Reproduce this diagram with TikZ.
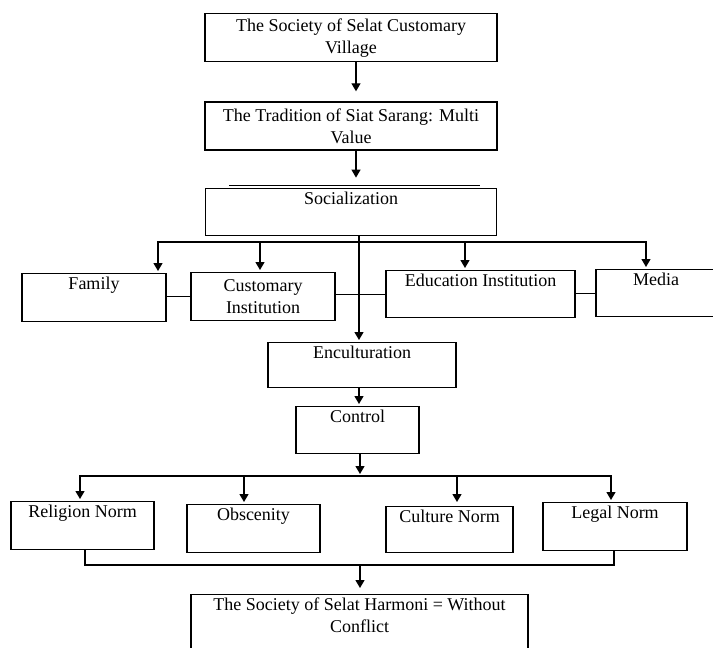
\documentclass[tikz,border=0pt]{standalone}
\usepackage{fontspec}
\setmainfont{Liberation Serif}
\usetikzlibrary{shapes,arrows.meta,positioning}

\begin{document}
\begin{tikzpicture}[x=1pt, y=-1pt, node distance=30pt]
    % Define styles
    \tikzstyle{block} = [rectangle, draw=black, line width=1.3pt, inner sep=0pt, align=center, font=\fontsize{18}{22}\selectfont, anchor=north]
    \tikzstyle{topblock} = [block, inner xsep=2pt, inner ysep=3pt, text height=13pt]
    \tikzstyle{line} = [draw=black, line width=1.3pt]
    \tikzstyle{arrow} = [line, -{Triangle[length=8pt,width=9pt]}, shorten >=2pt]

    \useasboundingbox (0,0) rectangle (713,648);

    % Main column
    \node [block, minimum width=292pt, minimum height=48pt] (village) at (351,13) {The Society of Selat Customary\\Village};
    \node [block, minimum width=292pt, minimum height=48pt, below=39pt of village] (tradition) {The Tradition of Siat Sarang: Multi\\Value};
    \node [topblock, minimum width=291pt, text depth=28pt, below=37pt of tradition] (social) {Socialization};
    \draw [line] ([xshift=24pt,yshift=2pt]social.north west) -- ([xshift=-17pt,yshift=2pt]social.north east);

    % Socialization agents
    \node [topblock, minimum width=144pt, text depth=29pt] (family) at (94,273) {Family};
    \node [block, minimum width=144pt, minimum height=48pt] (customary) at (263,272) {Customary\\Institution};
    \node [topblock, minimum width=189pt, text depth=28pt] (education) at (480.5,270) {Education Institution};
    \node [topblock, minimum width=120pt, text depth=28pt] (media) at (656,269) {Media};

    \node [topblock, minimum width=188pt, text depth=26pt] (encult) at (362,342) {Enculturation};
    \node [topblock, minimum width=123pt, text depth=28pt] (control) at (357.5,406) {Control};

    % Norms
    \node [topblock, minimum width=143pt, text depth=29pt] (religion) at (82.5,501) {Religion Norm};
    \node [topblock, minimum width=133pt, text depth=29pt] (obscenity) at (253.5,504) {Obscenity};
    \node [topblock, minimum width=127pt, text depth=27pt] (culture) at (449.5,506) {Culture Norm};
    \node [topblock, minimum width=144pt, text depth=29pt] (legal) at (615,502) {Legal Norm};

    \node [block, inner ysep=3pt, minimum width=337pt, text depth=70pt] (harmony) at (359.5,594) {The Society of Selat Harmoni = Without\\Conflict};

    % Arrows down the column
    \draw [arrow, shorten >=10pt] ([xshift=5pt]village.south) -- ([xshift=5pt]village.south |- tradition.north);
    \draw [arrow, shorten >=10pt] ([xshift=5pt]tradition.south) -- ([xshift=5pt]tradition.south |- social.north);
    \draw [arrow] ([xshift=8pt]social.south) -- ([xshift=8pt]social.south |- encult.north);

    % Fork to the agents
    \coordinate (fork1) at (359,242);
    \draw [arrow] (fork1) -| ([xshift=64pt]family.north);
    \draw [arrow] (fork1) -| ([xshift=-3pt]customary.north);
    \draw [arrow] (fork1) -| ([xshift=-15.5pt]education.north);
    \draw [arrow] (fork1) -| ([xshift=-10pt]media.north);
    \draw [line] (customary.west) -- (customary.west -| family.east);
    \draw [line] (education.west) -- (education.west -| customary.east);
    \draw [line] (media.west) -- (media.west -| education.east);

    \draw [arrow] ([xshift=-3pt]encult.south) -- ([xshift=-3pt]encult.south |- control.north);

    % Fork to the norms
    \coordinate (fork2) at (360,476);
    \draw [arrow] ([xshift=2.5pt]control.south) -- (fork2);
    \draw [arrow] (fork2) -| ([xshift=-2.5pt]religion.north);
    \draw [arrow] (fork2) -| ([xshift=-9.5pt]obscenity.north);
    \draw [arrow, shorten >=4pt] (fork2) -| ([xshift=7.5pt]culture.north);
    \draw [arrow] (fork2) -| ([xshift=-4pt]legal.north);

    % Join to the result
    \coordinate (join) at (360,565);
    \draw [line] ([xshift=2.5pt]religion.south) |- (join) -| ([xshift=-1pt]legal.south);
    \draw [arrow, shorten >=6pt] (join) -- (join |- harmony.north);
\end{tikzpicture}
\end{document}
